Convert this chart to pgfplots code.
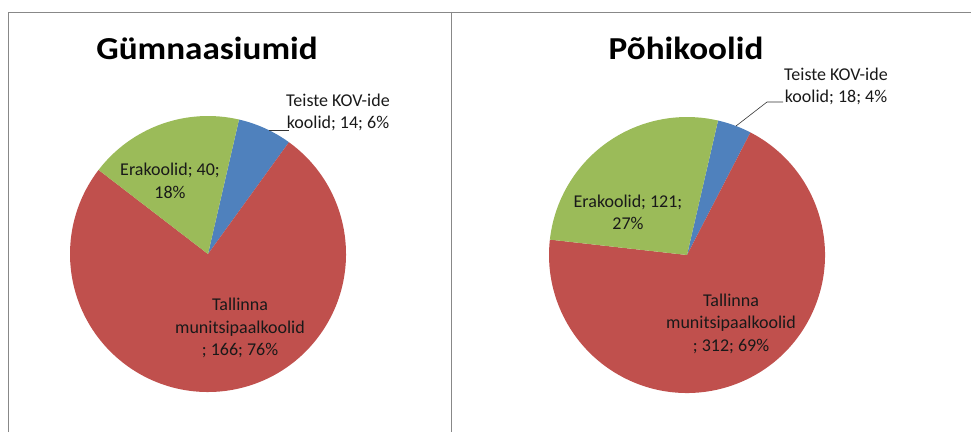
\documentclass[border=0pt]{standalone}
\usepackage{fontspec}
\setmainfont{Carlito}
\usepackage{graphicx}
\usepackage{pgfplots}
\usepackage{pgfplotstable}
\pgfplotsset{compat=1.18}
\definecolor{pieblue}{HTML}{4F81BD}
\definecolor{piered}{HTML}{C0504D}
\definecolor{piegreen}{HTML}{9BBB59}
\definecolor{framegray}{HTML}{888888}

% slices in clockwise order, starting 13 deg right of 12 o'clock
\pgfplotstableread[col sep=comma]{
name,value,color
Teiste,14,pieblue
Tallinna,166,piered
Erakoolid,40,piegreen
}\gymtable
\pgfplotstableread[col sep=comma]{
name,value,color
Teiste,18,pieblue
Tallinna,312,piered
Erakoolid,121,piegreen
}\pohitable

\newcommand\pieslices[2]{% #1 table, #2 start angle
  \pgfplotstablegetrowsof{#1}%
  \pgfmathtruncatemacro\lastrow{\pgfplotsretval-1}%
  \def\total{0}%
  \pgfplotsforeachungrouped \rowi in {0,...,\lastrow}{%
    \pgfplotstablegetelem{\rowi}{value}\of{#1}%
    \pgfmathsetmacro\total{\total+\pgfplotsretval}%
  }%
  \def\angA{#2}%
  \pgfplotsforeachungrouped \rowi in {0,...,\lastrow}{%
    \pgfplotstablegetelem{\rowi}{value}\of{#1}%
    \pgfmathsetmacro\angB{\angA-360*(\pgfplotsretval/\total)}%
    \pgfplotstablegetelem{\rowi}{color}\of{#1}%
    \let\slicecol\pgfplotsretval
    \pgfmathsetmacro\xA{cos(\angA)}%
    \pgfmathsetmacro\yA{sin(\angA)}%
    \edef\temp{\noexpand\fill[\slicecol] (axis cs:0,0) -- (axis cs:\xA,\yA)
      arc[start angle=\angA, end angle=\angB, radius=138pt] -- cycle;}%
    \temp
    \let\angA\angB
  }%
}

\pgfplotsset{pie/.style={
  width=276pt, height=276pt, scale only axis, anchor=center,
  xmin=-1, xmax=1, ymin=-1, ymax=1, hide axis, clip=false}}

\begin{document}
\begin{tikzpicture}[x=1pt,y=1pt]
\useasboundingbox (0,0) rectangle (971,432);
\draw[framegray, line width=0.8pt] (8,0) -- (8,420) -- (971,420);
\draw[framegray, line width=0.8pt] (451,420) -- (451,0);

\begin{axis}[pie, at={(208pt,178pt)}]
\pieslices{\gymtable}{77}
\end{axis}
\begin{axis}[pie, at={(687pt,177pt)}]
\pieslices{\pohitable}{77}
\end{axis}

\tikzset{lbl/.style={align=center, font=\fontsize{18}{22.5}\selectfont, inner sep=0pt, text=black!90}}
\tikzset{ttl/.style={anchor=base, font=\fontsize{32}{36}\selectfont\bfseries, inner sep=0pt}}
\node[ttl] at (207,372) {\scalebox{1.1}[1]{Gümnaasiumid}};
\node[ttl] at (686,372) {\scalebox{1.1}[1]{Põhikoolid}};

\node[lbl] at (338,319.5) {Teiste KOV-ide\\koolid; 14; 6\%};
\node[lbl] at (170,251) {Erakoolid; 40;\\18\%};
\node[lbl] at (240,104) {Tallinna\\munitsipaalkoolid\\; 166; 76\%};
\draw[black!80, line width=0.6pt] (269,302) -- (289,302);

\node[lbl] at (836,345.5) {Teiste KOV-ide\\koolid; 18; 4\%};
\node[lbl] at (628,219.5) {Erakoolid; 121;\\27\%};
\node[lbl] at (731,108.5) {Tallinna\\munitsipaalkoolid\\; 312; 69\%};
\draw[black!80, line width=0.6pt] (736,306) -- (767,330) -- (783,330);
\end{tikzpicture}
\end{document}
